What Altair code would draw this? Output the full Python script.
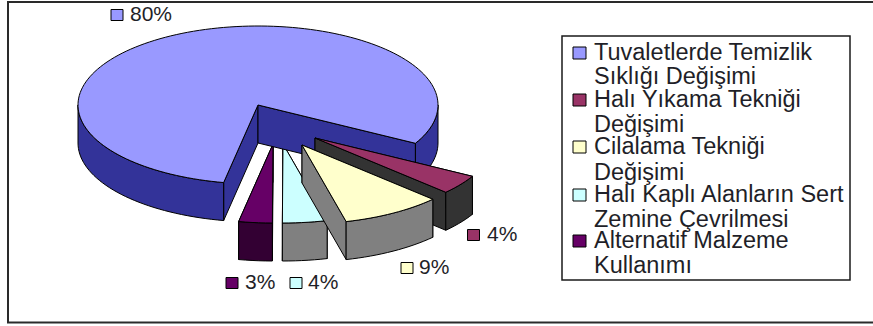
import math

import altair as alt
import pandas as pd

# Slice values, in drawing order round the pie (clockwise)
names = [
    "Tuvaletlerde Temizlik Sıklığı Değişimi",
    "Halı Yıkama Tekniği Değişimi",
    "Cilalama Tekniği Değişimi",
    "Halı Kaplı Alanların Sert Zemine Çevrilmesi",
    "Alternatif Malzeme Kullanımı",
]
shares = [80, 4, 9, 4, 3]
top_colors = ["#9999FF", "#993366", "#FFFFCC", "#CCFFFF", "#660066"]
side_colors = ["#333399", "#333333", "#808080", "#808080", "#330033"]

legend_lines = [
    ["Tuvaletlerde Temizlik", "Sıklığı Değişimi"],
    ["Halı Yıkama Tekniği", "Değişimi"],
    ["Cilalama Tekniği", "Değişimi"],
    ["Halı Kaplı Alanların Sert", "Zemine Çevrilmesi"],
    ["Alternatif Malzeme", "Kullanımı"],
]

WIDTH, HEIGHT = 873, 326

# Pie geometry: unit circle squashed by the axis scales below
CX, CY, RX, RY = 258, 105, 180, 79
DEPTH = 38 / RY
START_DEG = 29 - 288  # first slice ends just below the east point
# Pull-out of each slice, as (x, y) in unit radii
explode = [(0, 0), (57 / RX, 33 / RY), (44 / RX, 40 / RY), (25 / RX, 39 / RY), (15 / RX, 39 / RY)]


def rim(a0, a1, ox, oy, drop=0.0):
    n = max(2, int(abs(a1 - a0) / 2) + 1)
    return [
        (
            ox + math.cos(math.radians(a0 + (a1 - a0) * i / (n - 1))),
            oy + drop + math.sin(math.radians(a0 + (a1 - a0) * i / (n - 1))),
        )
        for i in range(n)
    ]


def wedge_faces(a0, a1, ox, oy):
    """Polygons for one slice, back to front, angles clockwise from east."""
    faces = []
    apex = (ox, oy)
    apex_low = (ox, oy + DEPTH)
    for ang in (a0, a1):
        edge = (ox + math.cos(math.radians(ang)), oy + math.sin(math.radians(ang)))
        faces.append(("side", [apex, edge, (edge[0], edge[1] + DEPTH), apex_low]))
    # Outer wall: only the part facing the viewer (0..180 degrees)
    for k in range(-1, 2):
        lo = max(a0, 360 * k)
        hi = min(a1, 360 * k + 180)
        if lo < hi:
            faces.append(("side", rim(lo, hi, ox, oy) + rim(hi, lo, ox, oy, DEPTH)))
    faces.append(("top", [apex] + rim(a0, a1, ox, oy)))
    return faces


angles = []
cursor = START_DEG
for share in shares:
    angles.append((cursor, cursor + share * 3.6))
    cursor += share * 3.6

# Purple and cyan sit behind the main slice, the other two in front of it
paint_order = [3, 4, 0, 1, 2]

rows = []
poly_id = 0
for slice_i in paint_order:
    a0, a1 = angles[slice_i]
    ox, oy = explode[slice_i]
    for kind, pts in wedge_faces(a0, a1, ox, oy):
        color = top_colors[slice_i] if kind == "top" else side_colors[slice_i]
        for j, (px, py) in enumerate(pts + [pts[0]]):
            rows.append({"poly": f"p{poly_id:03d}", "seq": j, "px": px, "py": py, "color": color})
        poly_id += 1

polys = pd.DataFrame(rows)

x_scale = alt.Scale(domain=[-CX / RX, (WIDTH - CX) / RX], range=[0, WIDTH], nice=False, zero=False)
y_scale = alt.Scale(domain=[-CY / RY, (HEIGHT - CY) / RY], range=[0, HEIGHT], nice=False, zero=False)

layers = []
for pid, group in polys.groupby("poly", sort=True):
    layers.append(
        alt.Chart(group)
        .mark_line(fill=group["color"].iloc[0], stroke="#000000", strokeWidth=1, interpolate="linear")
        .encode(
            x=alt.X("px:Q", scale=x_scale, axis=None),
            y=alt.Y("py:Q", scale=y_scale, axis=None),
            order="seq:Q",
        )
    )

FONT = "Liberation Sans"
TEXT = "#1f1f28"

# Outer frame (open on the right edge) and legend box
frame = alt.Chart(pd.DataFrame({"a": [0]})).mark_rect(fill="white", stroke="#2a2a2a", strokeWidth=2).encode(
    x=alt.value(8), x2=alt.value(880), y=alt.value(2), y2=alt.value(322.5)
)
legend_box = alt.Chart(pd.DataFrame({"a": [0]})).mark_rect(fill="white", stroke="#1a1a1a", strokeWidth=1.5).encode(
    x=alt.value(562), x2=alt.value(850), y=alt.value(36), y2=alt.value(280)
)

# Percent labels with their swatches
label_x = [130, 487, 419, 308, 245]
label_y = [15, 235, 268, 283, 283]
sw_x = [117, 473.5, 407, 296, 232]
label_frame = pd.DataFrame(
    {"text": [f"{s}%" for s in shares], "lx": label_x, "ly": label_y, "sx": sw_x, "color": top_colors}
)
label_layers = []
for row in label_frame.itertuples():
    one = pd.DataFrame({"text": [row.text]})
    label_layers.append(
        alt.Chart(one)
        .mark_text(font=FONT, fontSize=21, align="left", baseline="middle", color=TEXT)
        .encode(text="text:N", x=alt.value(row.lx), y=alt.value(row.ly))
    )
    label_layers.append(
        alt.Chart(one)
        .mark_rect(fill=row.color, stroke="#000000", strokeWidth=1)
        .encode(
            x=alt.value(row.sx - 6), x2=alt.value(row.sx + 6),
            y=alt.value(row.ly - 5.5), y2=alt.value(row.ly + 5.5),
        )
    )

# Legend entries, two lines each
legend_y = [[53, 77], [100, 125], [147, 173], [195, 220], [241, 266]]
legend_layers = []
for lines, ys, color in zip(legend_lines, legend_y, top_colors):
    legend_layers.append(
        alt.Chart(pd.DataFrame({"a": [0]}))
        .mark_rect(fill=color, stroke="#000000", strokeWidth=1)
        .encode(
            x=alt.value(573), x2=alt.value(586),
            y=alt.value(ys[0] - 6), y2=alt.value(ys[0] + 6),
        )
    )
    for line, y in zip(lines, ys):
        legend_layers.append(
            alt.Chart(pd.DataFrame({"text": [line]}))
            .mark_text(font=FONT, fontSize=23.5, align="left", baseline="middle", color=TEXT)
            .encode(text="text:N", x=alt.value(594), y=alt.value(y))
        )

chart = (
    alt.layer(frame, *layers, *label_layers, legend_box, *legend_layers)
    .properties(width=WIDTH, height=HEIGHT, padding=0, autosize=alt.AutoSizeParams(type="none"), background="white")
    .configure_view(stroke=None)
)

chart.save("out.html", embed_options={"renderer": "svg", "actions": False})
